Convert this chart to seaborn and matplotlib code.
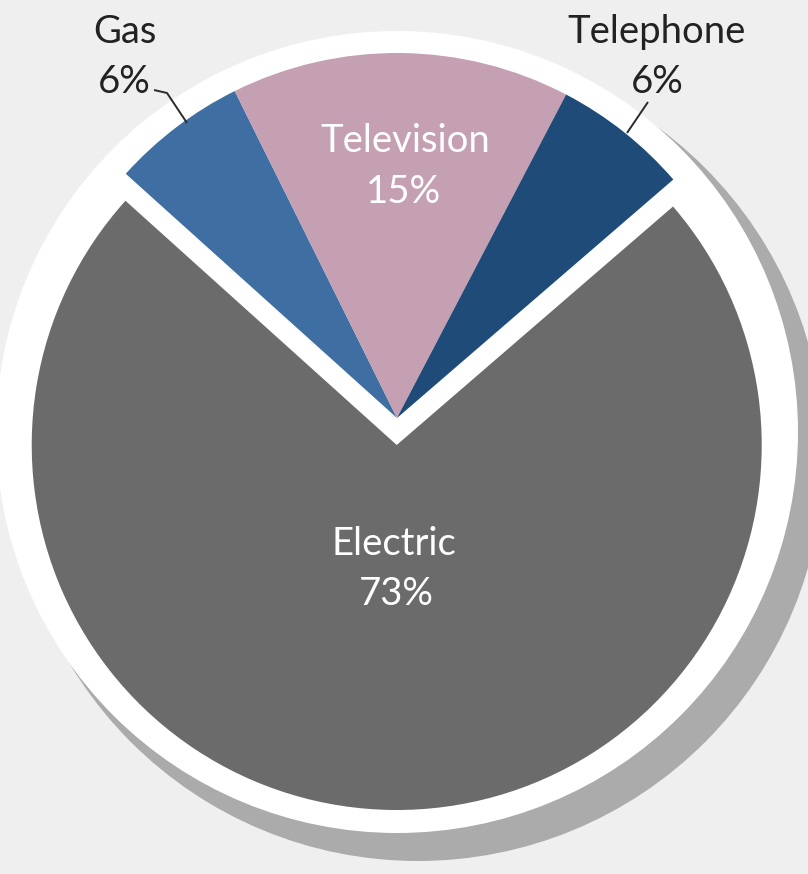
import matplotlib
matplotlib.use("Agg")
import matplotlib.pyplot as plt
import matplotlib.patches as mpatches
import seaborn as sns

# Household utility bill shares
categories = ["Gas", "Television", "Telephone", "Electric"]
shares = [6, 15, 6, 73]
slice_colors = ["#3f6ea3", "#c4a0b2", "#1e4b78", "#6b6b6b"]
gap = [0, 0, 0, 27]

sns.set_theme(style="white")
plt.rcParams["font.family"] = ["Lato", "DejaVu Sans"]

fig = plt.figure(figsize=(8.08, 8.74), dpi=100, facecolor="#efefef")
ax = fig.add_axes([0, 0, 1, 1])
ax.set_facecolor("#efefef")

# drop shadow and white backing disc
ax.add_patch(mpatches.Circle((418, 455), 406, facecolor="#ababab", edgecolor="none", zorder=1))
ax.add_patch(mpatches.Circle((397, 432), 401, facecolor="white", edgecolor="none", zorder=2))

wedges, _ = ax.pie(
    shares,
    colors=slice_colors,
    explode=gap,
    startangle=-138,
    counterclock=True,
    center=(397, 418),
    radius=365,
    frame=True,
    wedgeprops=dict(linewidth=0),
)
for w in wedges:
    w.set_zorder(3)

ax.set_xlim(0, 808)
ax.set_ylim(874, 0)
ax.set_aspect("equal")
ax.axis("off")

fs = 27.5
# inside labels
ax.text(405, 152, categories[1], color="white", fontsize=fs, ha="center", va="baseline", zorder=5)
ax.text(403, 203, f"{shares[1]}%", color="white", fontsize=fs, ha="center", va="baseline", zorder=5)
ax.text(394, 555, categories[3], color="white", fontsize=fs, ha="center", va="baseline", zorder=5)
ax.text(396, 605, f"{shares[3]}%", color="white", fontsize=fs, ha="center", va="baseline", zorder=5)

# outside labels
ax.text(125, 43, categories[0], color="#222222", fontsize=fs, ha="center", va="baseline", zorder=5)
ax.text(124, 93, f"{shares[0]}%", color="#222222", fontsize=fs, ha="center", va="baseline", zorder=5)
ax.text(657, 43, categories[2], color="#222222", fontsize=fs, ha="center", va="baseline", zorder=5)
ax.text(657, 93, f"{shares[2]}%", color="#222222", fontsize=fs, ha="center", va="baseline", zorder=5)

# leader lines
ax.plot([154, 167, 187], [90, 93, 123], color="#2a2a2a", lw=1.4, zorder=6, solid_capstyle="butt")
ax.plot([648, 627], [102, 133], color="#2a2a2a", lw=1.4, zorder=6, solid_capstyle="butt")

fig.savefig("out.png", dpi=100, facecolor=fig.get_facecolor())
